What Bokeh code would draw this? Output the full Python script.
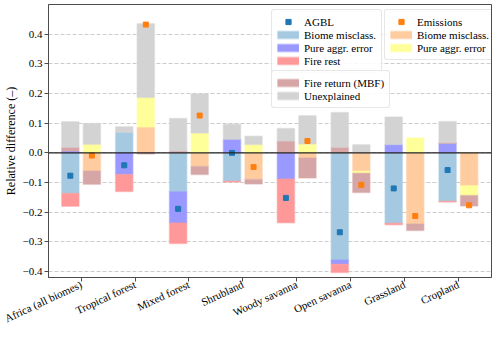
import math
import numpy as np
from bokeh.plotting import figure
from bokeh.models import FixedTicker, Legend, LegendItem, Span, Range1d
from bokeh.embed import file_html
from bokeh.resources import INLINE

categories = ["Africa (all biomes)", "Tropical forest", "Mixed forest", "Shrubland",
              "Woody savanna", "Open savanna", "Grassland", "Cropland"]

# AGBL components (stacked: positives upward, negatives downward, in this order)
agbl_biome = [-0.137, 0.070, -0.131, -0.096, 0.000, -0.362, -0.238, -0.163]
agbl_pure = [0.006, -0.073, -0.106, 0.046, -0.088, -0.014, 0.028, 0.032]
agbl_fire_rest = [-0.043, -0.057, -0.069, -0.002, -0.148, -0.028, -0.005, -0.003]
agbl_fire_return = [0.013, 0.000, 0.006, 0.000, 0.040, 0.019, 0.000, 0.003]
agbl_unexplained = [0.086, 0.018, 0.110, 0.051, 0.042, 0.117, 0.093, 0.071]
agbl_total = [-0.077, -0.042, -0.189, 0.000, -0.152, -0.268, -0.120, -0.058]

# Emissions components
em_biome = [-0.061, 0.087, -0.046, -0.090, -0.017, -0.062, -0.240, -0.111]
em_pure = [0.029, 0.100, 0.067, 0.028, 0.030, -0.007, 0.050, -0.033]
em_fire_return = [-0.045, -0.004, -0.027, -0.015, -0.068, -0.065, -0.022, -0.035]
em_unexplained = [0.070, 0.249, 0.132, 0.028, 0.095, 0.027, 0.000, 0.000]
em_total = [-0.009, 0.433, 0.126, -0.048, 0.040, -0.108, -0.213, -0.177]

ytick_values = [-0.4, -0.3, -0.2, -0.1, 0.0, 0.1, 0.2, 0.3, 0.4]
ytick_labels = ["\u22120.4", "\u22120.3", "\u22120.2", "\u22120.1", "0.0", "0.1", "0.2", "0.3", "0.4"]

FONT = "Liberation Serif"
C_BLUE = "#1f77b4"
C_ORANGE = "#ff7f0e"
C_AGBL_BIOME = "#a5c9e1"
C_PURE = "#9999ff"
C_FIRE_REST = "#ff9999"
C_FIRE_RET = "#d6a6a6"
C_UNEXPL = "#d3d3d3"
C_EM_BIOME = "#ffcc9f"
C_YELLOW = "#ffff99"

p = figure(width=492, height=332, output_backend="svg", toolbar_location=None,
           x_range=Range1d(-0.6055, 7.615), y_range=Range1d(-0.4207, 0.5008),
           min_border_left=43, min_border_right=1, min_border_top=4, min_border_bottom=52)

n = len(categories)
xpos = np.arange(n)
BW = 0.32


def draw_stack(offset, components):
    pos = np.zeros(n)
    neg = np.zeros(n)
    for vals, color in components:
        v = np.array(vals, dtype=float)
        bottom = np.where(v >= 0, pos, neg)
        top = bottom + v
        pos = np.where(v >= 0, top, pos)
        neg = np.where(v < 0, top, neg)
        mask = v != 0
        p.vbar(x=(xpos + offset)[mask], width=BW, bottom=bottom[mask], top=top[mask],
               fill_color=color, line_color=color, line_alpha=0.45, line_width=1.5)


draw_stack(-0.2, [(agbl_biome, C_AGBL_BIOME), (agbl_pure, C_PURE), (agbl_fire_rest, C_FIRE_REST),
                  (agbl_fire_return, C_FIRE_RET), (agbl_unexplained, C_UNEXPL)])
draw_stack(0.2, [(em_biome, C_EM_BIOME), (em_pure, C_YELLOW),
                 (em_fire_return, C_FIRE_RET), (em_unexplained, C_UNEXPL)])

p.add_layout(Span(location=0, dimension="width", line_color="#222222", line_width=1.3))

agbl_marker = p.scatter(xpos - 0.2, agbl_total, marker="square", size=5, color=C_BLUE)
em_marker = p.scatter(xpos + 0.2, em_total, marker="square", size=5, color=C_ORANGE)


def patch_item(label, color):
    r1 = p.line([np.nan], [np.nan], line_color=color, line_width=9, line_alpha=0.45)
    r2 = p.line([np.nan], [np.nan], line_color=color, line_width=7)
    return LegendItem(label=label, renderers=[r1, r2])


def make_legend(items, loc):
    lg = Legend(items=items, location=loc, padding=5, spacing=0, margin=0,
                glyph_width=22, glyph_height=13, label_height=13, label_standoff=5,
                label_text_font=FONT, label_text_font_size="11px", label_text_color="black",
                border_line_color="#d0d0d0", border_line_width=1,
                background_fill_color="white", background_fill_alpha=0.85)
    try:
        lg.border_radius = 3
    except Exception:
        pass
    return lg


leg1 = make_legend([LegendItem(label="AGBL", renderers=[agbl_marker]),
                    patch_item("Biome misclass.", C_AGBL_BIOME),
                    patch_item("Pure aggr. error", C_PURE),
                    patch_item("Fire rest", C_FIRE_REST)], (223, 204))
leg2 = make_legend([LegendItem(label="Emissions", renderers=[em_marker]),
                    patch_item("Biome misclass.", C_EM_BIOME),
                    patch_item("Pure aggr. error", C_YELLOW)], (336, 217))
leg3 = make_legend([patch_item("Fire return (MBF)", C_FIRE_RET),
                    patch_item("Unexplained", C_UNEXPL)], (223, 169))
for lg in (leg1, leg2, leg3):
    p.add_layout(lg)

# axes
p.xaxis.ticker = FixedTicker(ticks=list(range(n)))
p.xaxis.major_label_overrides = {i: c for i, c in enumerate(categories)}
p.xaxis.major_label_orientation = math.radians(25)
p.yaxis.ticker = FixedTicker(ticks=ytick_values)
p.yaxis.major_label_overrides = dict(zip(ytick_values, ytick_labels))
p.yaxis.axis_label = "Relative difference (\u2013)"

for ax in (p.xaxis[0], p.yaxis[0]):
    ax.major_label_text_font = FONT
    ax.major_label_text_font_size = "11px"
    ax.major_label_text_color = "black"
    ax.axis_label_text_font = FONT
    ax.axis_label_text_font_size = "12px"
    ax.axis_label_text_font_style = "normal"
    ax.axis_label_text_color = "black"
    ax.axis_line_color = "#4d4d4d"
    ax.major_tick_line_color = "#4d4d4d"
    ax.major_tick_in = 0
    ax.major_tick_out = 4
    ax.minor_tick_line_color = None
    ax.major_label_standoff = 2
    ax.axis_label_standoff = 2

p.xgrid.grid_line_color = None
p.ygrid.grid_line_color = "#cccccc"
p.ygrid.grid_line_dash = "4 2"
p.ygrid.grid_line_width = 1
p.outline_line_color = "#4d4d4d"
p.outline_line_width = 1
p.background_fill_color = "white"
p.border_fill_color = "white"

open("out.html", "w").write(file_html(p, INLINE))
